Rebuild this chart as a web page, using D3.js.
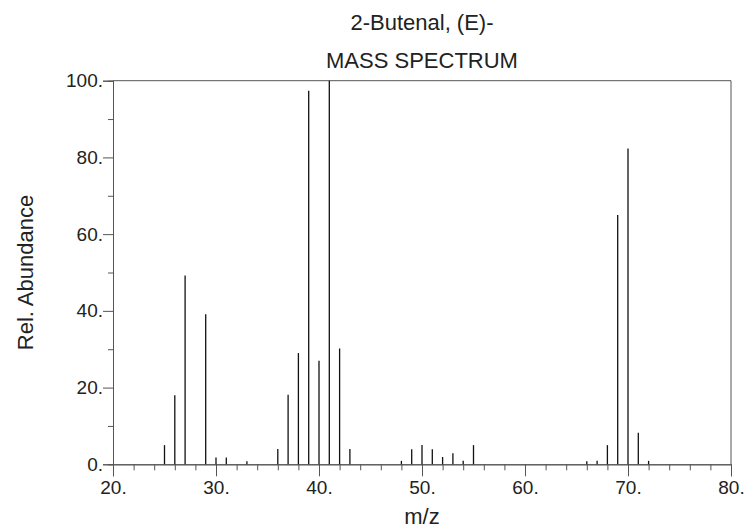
<!DOCTYPE html>
<html>
<head>
<meta charset="utf-8">
<script src="https://cdn.jsdelivr.net/npm/d3@7"></script>
<style>
  html, body { margin: 0; padding: 0; background: #fff; }
  svg { display: block; font-family: "Liberation Sans", Arial, sans-serif; }
</style>
</head>
<body>
<div id="chart"></div>
<script>
// peak data
const mzValues = [25, 26, 27, 29, 30, 31, 33, 36, 37, 38, 39, 40, 41, 42, 43,
                  48, 49, 50, 51, 52, 53, 54, 55, 66, 67, 68, 69, 70, 71, 72];
const abundance = [5, 18, 49.2, 39.1, 1.8, 1.8, 0.8, 4, 18.1, 29, 97.4, 27, 100, 30.2, 4,
                   0.9, 3.9, 5, 3.9, 1.9, 2.9, 0.9, 5, 0.8, 0.9, 5, 65, 82.3, 8.2, 0.9];

const xMajorTicks = [20, 30, 40, 50, 60, 70, 80];
const xMinorTicks = [22, 24, 26, 28, 32, 34, 36, 38, 42, 44, 46, 48, 52, 54, 56, 58, 62, 64, 66, 68, 72, 74, 76, 78];
const yMajorTicks = [0, 20, 40, 60, 80, 100];
const yMinorTicks = [10, 30, 50, 70, 90];

const titleLines = ["2-Butenal, (E)-", "MASS SPECTRUM"];
const xTitle = "m/z";
const yTitle = "Rel. Abundance";

const width = 745, height = 529;
const plotLeft = 113, plotRight = 731, plotTop = 80.7, plotBottom = 464.3;
const axisColor = "#555";

const svg = d3.select("#chart").append("svg")
    .attr("width", width)
    .attr("height", height);

svg.append("rect").attr("width", width).attr("height", height).attr("fill", "#fff");

const x = d3.scaleLinear().domain([20, 80]).range([plotLeft, plotRight]);
const y = d3.scaleLinear().domain([0, 100]).range([plotBottom, plotTop]);

// frame: top and right edges
svg.append("line")
    .attr("x1", plotLeft).attr("x2", plotRight)
    .attr("y1", y(100)).attr("y2", y(100))
    .attr("stroke", axisColor);
svg.append("line")
    .attr("x1", plotRight).attr("x2", plotRight)
    .attr("y1", y(100)).attr("y2", y(0))
    .attr("stroke", axisColor);

// x axis
svg.append("g")
    .attr("transform", `translate(0,${plotBottom})`)
    .call(d3.axisBottom(x).tickValues(xMajorTicks).tickSize(12).tickPadding(4)
        .tickFormat(d => d + "."));
svg.append("g")
    .attr("transform", `translate(0,${plotBottom})`)
    .call(d3.axisBottom(x).tickValues(xMinorTicks).tickSize(6).tickFormat(""));

// y axis
svg.append("g")
    .attr("transform", `translate(${plotLeft},0)`)
    .call(d3.axisLeft(y).tickValues(yMajorTicks).tickSize(10).tickPadding(0)
        .tickFormat(d => d + "."));
svg.append("g")
    .attr("transform", `translate(${plotLeft},0)`)
    .call(d3.axisLeft(y).tickValues(yMinorTicks).tickSize(5).tickFormat(""));

svg.selectAll(".domain, .tick line").attr("stroke", axisColor);
svg.selectAll(".tick text")
    .attr("font-family", "Liberation Sans, Arial, sans-serif")
    .attr("font-size", 19)
    .attr("fill", "#222");

// peaks
svg.append("g")
    .selectAll("line")
    .data(mzValues)
    .join("line")
    .attr("x1", d => x(d))
    .attr("x2", d => x(d))
    .attr("y1", y(0))
    .attr("y2", (d, i) => y(abundance[i]))
    .attr("stroke", "#111")
    .attr("stroke-width", 1.3);

// titles
const cx = (plotLeft + plotRight) / 2;
svg.selectAll(".title")
    .data(titleLines)
    .join("text")
    .attr("class", "title")
    .attr("x", cx)
    .attr("y", (d, i) => 30 + i * 38)
    .attr("text-anchor", "middle")
    .attr("font-size", 22)
    .attr("fill", "#222")
    .text(d => d);

svg.append("text")
    .attr("x", cx)
    .attr("y", 524)
    .attr("text-anchor", "middle")
    .attr("font-size", 22)
    .attr("fill", "#222")
    .text(xTitle);

svg.append("text")
    .attr("transform", `translate(33,${(plotTop + plotBottom) / 2}) rotate(-90)`)
    .attr("text-anchor", "middle")
    .attr("font-size", 22)
    .attr("fill", "#222")
    .text(yTitle);
</script>
</body>
</html>
